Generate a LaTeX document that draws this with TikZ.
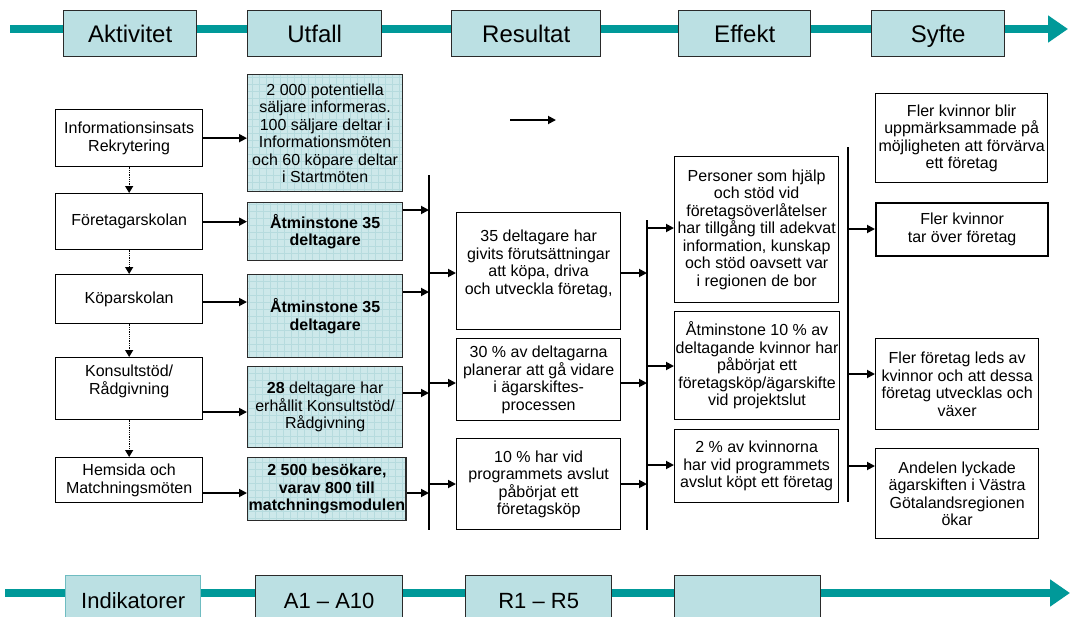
\documentclass[tikz,border=0pt]{standalone}
\usepackage{fontspec}
\setmainfont{Liberation Sans}
\usetikzlibrary{arrows.meta}
\definecolor{tealline}{HTML}{009999}
\definecolor{hdrfill}{HTML}{BBE0E3}
\definecolor{outfill}{HTML}{CDE8EA}
\definecolor{gridc}{HTML}{B6DBDE}
\definecolor{bordc}{HTML}{2A2A2A}
\definecolor{indbord}{HTML}{6FBCC1}
\begin{document}
\begin{tikzpicture}[x=1pt,y=-1pt,
  hdr/.style={draw=bordc, line width=1.4pt, fill=hdrfill, anchor=north west, inner sep=0pt, text height=17.5pt, text depth=0pt, font=\fontsize{24}{26}\selectfont},
  btm/.style={hdr, text height=16pt, text depth=0pt, font=\fontsize{22}{24}\selectfont},
  box/.style={draw=black, line width=1.3pt, fill=white, anchor=north west, inner sep=1pt, align=center, font=\fontsize{16}{17.5}\selectfont},
  outbox/.style={box, fill=outfill, draw=bordc, path picture={\draw[gridc, line width=0.5pt, step=7pt] (path picture bounding box.south west) grid (path picture bounding box.north east);}},
  arr/.style={draw=black, line width=1.8pt, -{Triangle[length=8pt,width=8pt]}},
  darr/.style={draw=black, line width=1.3pt, densely dotted, -{Triangle[length=7pt,width=8pt]}},
  bus/.style={draw=black, line width=1.8pt},
  flow/.style={draw=tealline, line width=8pt, -{Triangle[length=20pt,width=26pt]}}
]
\useasboundingbox (0,0) rectangle (1071,616);
\clip (0,0) rectangle (1071,616);

% top flow line
\coordinate (tl) at (10,29);
\coordinate (tr) at (1068,29);
\draw[flow] (tl) -- (tr);
\node[hdr, minimum width=133pt, minimum height=46pt] (hA) at (63,10) {Aktivitet};
\node[hdr, minimum width=134pt, minimum height=46pt] (hU) at (247,10) {Utfall};
\node[hdr, minimum width=149pt, minimum height=46pt] (hR) at (451,10) {Resultat};
\node[hdr, minimum width=132pt, minimum height=46pt] (hE) at (678,10) {Effekt};
\node[hdr, minimum width=133pt, minimum height=46pt] (hS) at (871,10) {Syfte};

% bottom flow line
\coordinate (bl) at (5,593);
\coordinate (br) at (1070,593);
\draw[flow] (bl) -- (br);
\node[btm, draw=indbord, minimum width=135pt, minimum height=50pt] (bI) at (65,575) {Indikatorer};
\node[btm, minimum width=147pt, minimum height=50pt] (bA) at (255,575) {A1 -- A10};
\node[btm, minimum width=146pt, minimum height=50pt] (bR) at (465,575) {R1 -- R5};
\node[btm, minimum width=146pt, minimum height=50pt] (bE) at (674,575) {};

% Aktivitet column
\node[box, minimum width=147pt, minimum height=57pt] (a1) at (55,109) {Informationsinsats\\Rekrytering};
\node[box, minimum width=147pt, minimum height=56pt] (a2) at (55,193) {Företagarskolan};
\node[box, minimum width=147pt, minimum height=49pt] (a3) at (55,274) {Köparskolan};
\node[box, minimum width=147pt, minimum height=62pt] (a4) at (55,357) {Konsultstöd/\\Rådgivning\\\mbox{}};
\node[box, minimum width=147pt, minimum height=45pt] (a5) at (55,457) {Hemsida och\\Matchningsmöten};

\draw[darr] (a1.south) -- (a2.north);
\draw[darr] (a2.south) -- (a3.north);
\draw[darr] (a3.south) -- (a4.north);
\draw[darr] (a4.south) -- (a5.north);

% Utfall column
\node[outbox, minimum width=155pt, minimum height=117pt] (u1) at (247,74) {2 000 potentiella\\säljare informeras.\\100 säljare deltar i\\Informationsmöten\\och 60 köpare deltar\\i Startmöten};
\node[outbox, minimum width=155pt, minimum height=58pt] (u2) at (247,202) {\textbf{Åtminstone 35}\\\textbf{deltagare}};
\node[outbox, minimum width=155pt, minimum height=83pt] (u3) at (247,274) {\textbf{Åtminstone 35}\\\textbf{deltagare}};
\node[outbox, minimum width=155pt, minimum height=81pt] (u4) at (247,366) {\textbf{28} deltagare har\\erhållit Konsultstöd/\\Rådgivning};
\node[outbox, minimum width=155pt, minimum height=63pt] (u5) at (247,457) {\textbf{2 500 besökare,}\\\textbf{varav 800 till}\\\textbf{matchningsmodulen}};

\draw[arr] (a1.east) -- (a1.east -| u1.west);
\draw[arr] (a2.east) -- (a2.east -| u2.west);
\draw[arr] (a3.east |- 0,302) -- (u3.west |- 0,302);
\draw[arr] (a4.east |- 0,412) -- (u4.west |- 0,412);
\draw[arr] (a5.east |- 0,493) -- (u5.west |- 0,493);

% bus 1
\coordinate (L1t) at (429,175);
\coordinate (L1b) at (429,530);
\draw[bus] (L1t) -- (L1b);
\draw[arr] (u2.east |- 0,210) -- (L1t |- 0,210);
\draw[arr] (u3.east |- 0,292) -- (L1t |- 0,292);
\draw[arr] (u4.east |- 0,393) -- (L1t |- 0,393);
\draw[arr] (u5.east |- 0,493) -- (L1t |- 0,493);

% standalone arrow
\coordinate (sa1) at (510,120);
\coordinate (sa2) at (556,120);
\draw[arr] (sa1) -- (sa2);

% Resultat column
\node[box, minimum width=164pt, minimum height=117pt] (r1) at (456,212) {35 deltagare har\\givits förutsättningar\\att köpa, driva\\och utveckla företag,\\\mbox{}};
\node[box, minimum width=164pt, minimum height=82pt] (r2) at (456,338) {30 \% av deltagarna\\planerar att gå vidare\\i ägarskiftes-\\processen};
\node[box, minimum width=164pt, minimum height=91pt] (r3) at (456,438) {10 \% har vid\\programmets avslut\\påbörjat ett\\företagsköp};

\draw[arr] (L1t |- 0,273) -- (r1.west |- 0,273);
\draw[arr] (L1t |- 0,383) -- (r2.west |- 0,383);
\draw[arr] (L1t |- 0,484) -- (r3.west |- 0,484);

% bus 2
\coordinate (L2t) at (647,220);
\coordinate (L2b) at (647,530);
\draw[bus] (L2t) -- (L2b);
\draw[arr] (r1.east |- 0,273) -- (L2t |- 0,273);
\draw[arr] (r2.east |- 0,383) -- (L2t |- 0,383);
\draw[arr] (r3.east |- 0,484) -- (L2t |- 0,484);

% Effekt column
\node[box, minimum width=164pt, minimum height=146pt] (e1) at (674,156) {Personer som hjälp\\och stöd vid\\företagsöverlåtelser\\har tillgång till adekvat\\information, kunskap\\och stöd oavsett var\\i regionen de bor};
\node[box, minimum width=164pt, minimum height=108pt] (e2) at (674,311) {Åtminstone 10 \% av\\deltagande kvinnor har\\påbörjat ett\\företagsköp/ägarskifte\\vid projektslut};
\node[box, minimum width=164pt, minimum height=73pt] (e3) at (674,429) {2 \% av kvinnorna\\har vid programmets\\avslut köpt ett företag};

\draw[arr] (L2t |- 0,228) -- (e1.west |- 0,228);
\draw[arr] (L2t |- 0,366) -- (e2.west |- 0,366);
\draw[arr] (L2t |- 0,465) -- (e3.west |- 0,465);

% bus 3
\coordinate (L3t) at (848,147);
\coordinate (L3b) at (848,502);
\draw[bus] (L3t) -- (L3b);

% Syfte column
\node[box, minimum width=172pt, minimum height=89pt] (s1) at (875,93) {Fler kvinnor blir\\uppmärksammade på\\möjligheten att förvärva\\ett företag};
\node[box, line width=2.2pt, minimum width=172pt, minimum height=53pt] (s2) at (875,202) {Fler kvinnor\\tar över företag};
\node[box, minimum width=163pt, minimum height=91pt] (s3) at (875,338) {Fler företag leds av\\kvinnor och att dessa\\företag utvecklas och\\växer};
\node[box, minimum width=163pt, minimum height=90pt] (s4) at (875,448) {Andelen lyckade\\ägarskiften i Västra\\Götalandsregionen\\ökar};

\draw[arr] (L3t |- 0,229) -- (s2.west |- 0,229);
\draw[arr] (L3t |- 0,374) -- (s3.west |- 0,374);
\draw[arr] (L3t |- 0,466) -- (s4.west |- 0,466);
\end{tikzpicture}
\end{document}
